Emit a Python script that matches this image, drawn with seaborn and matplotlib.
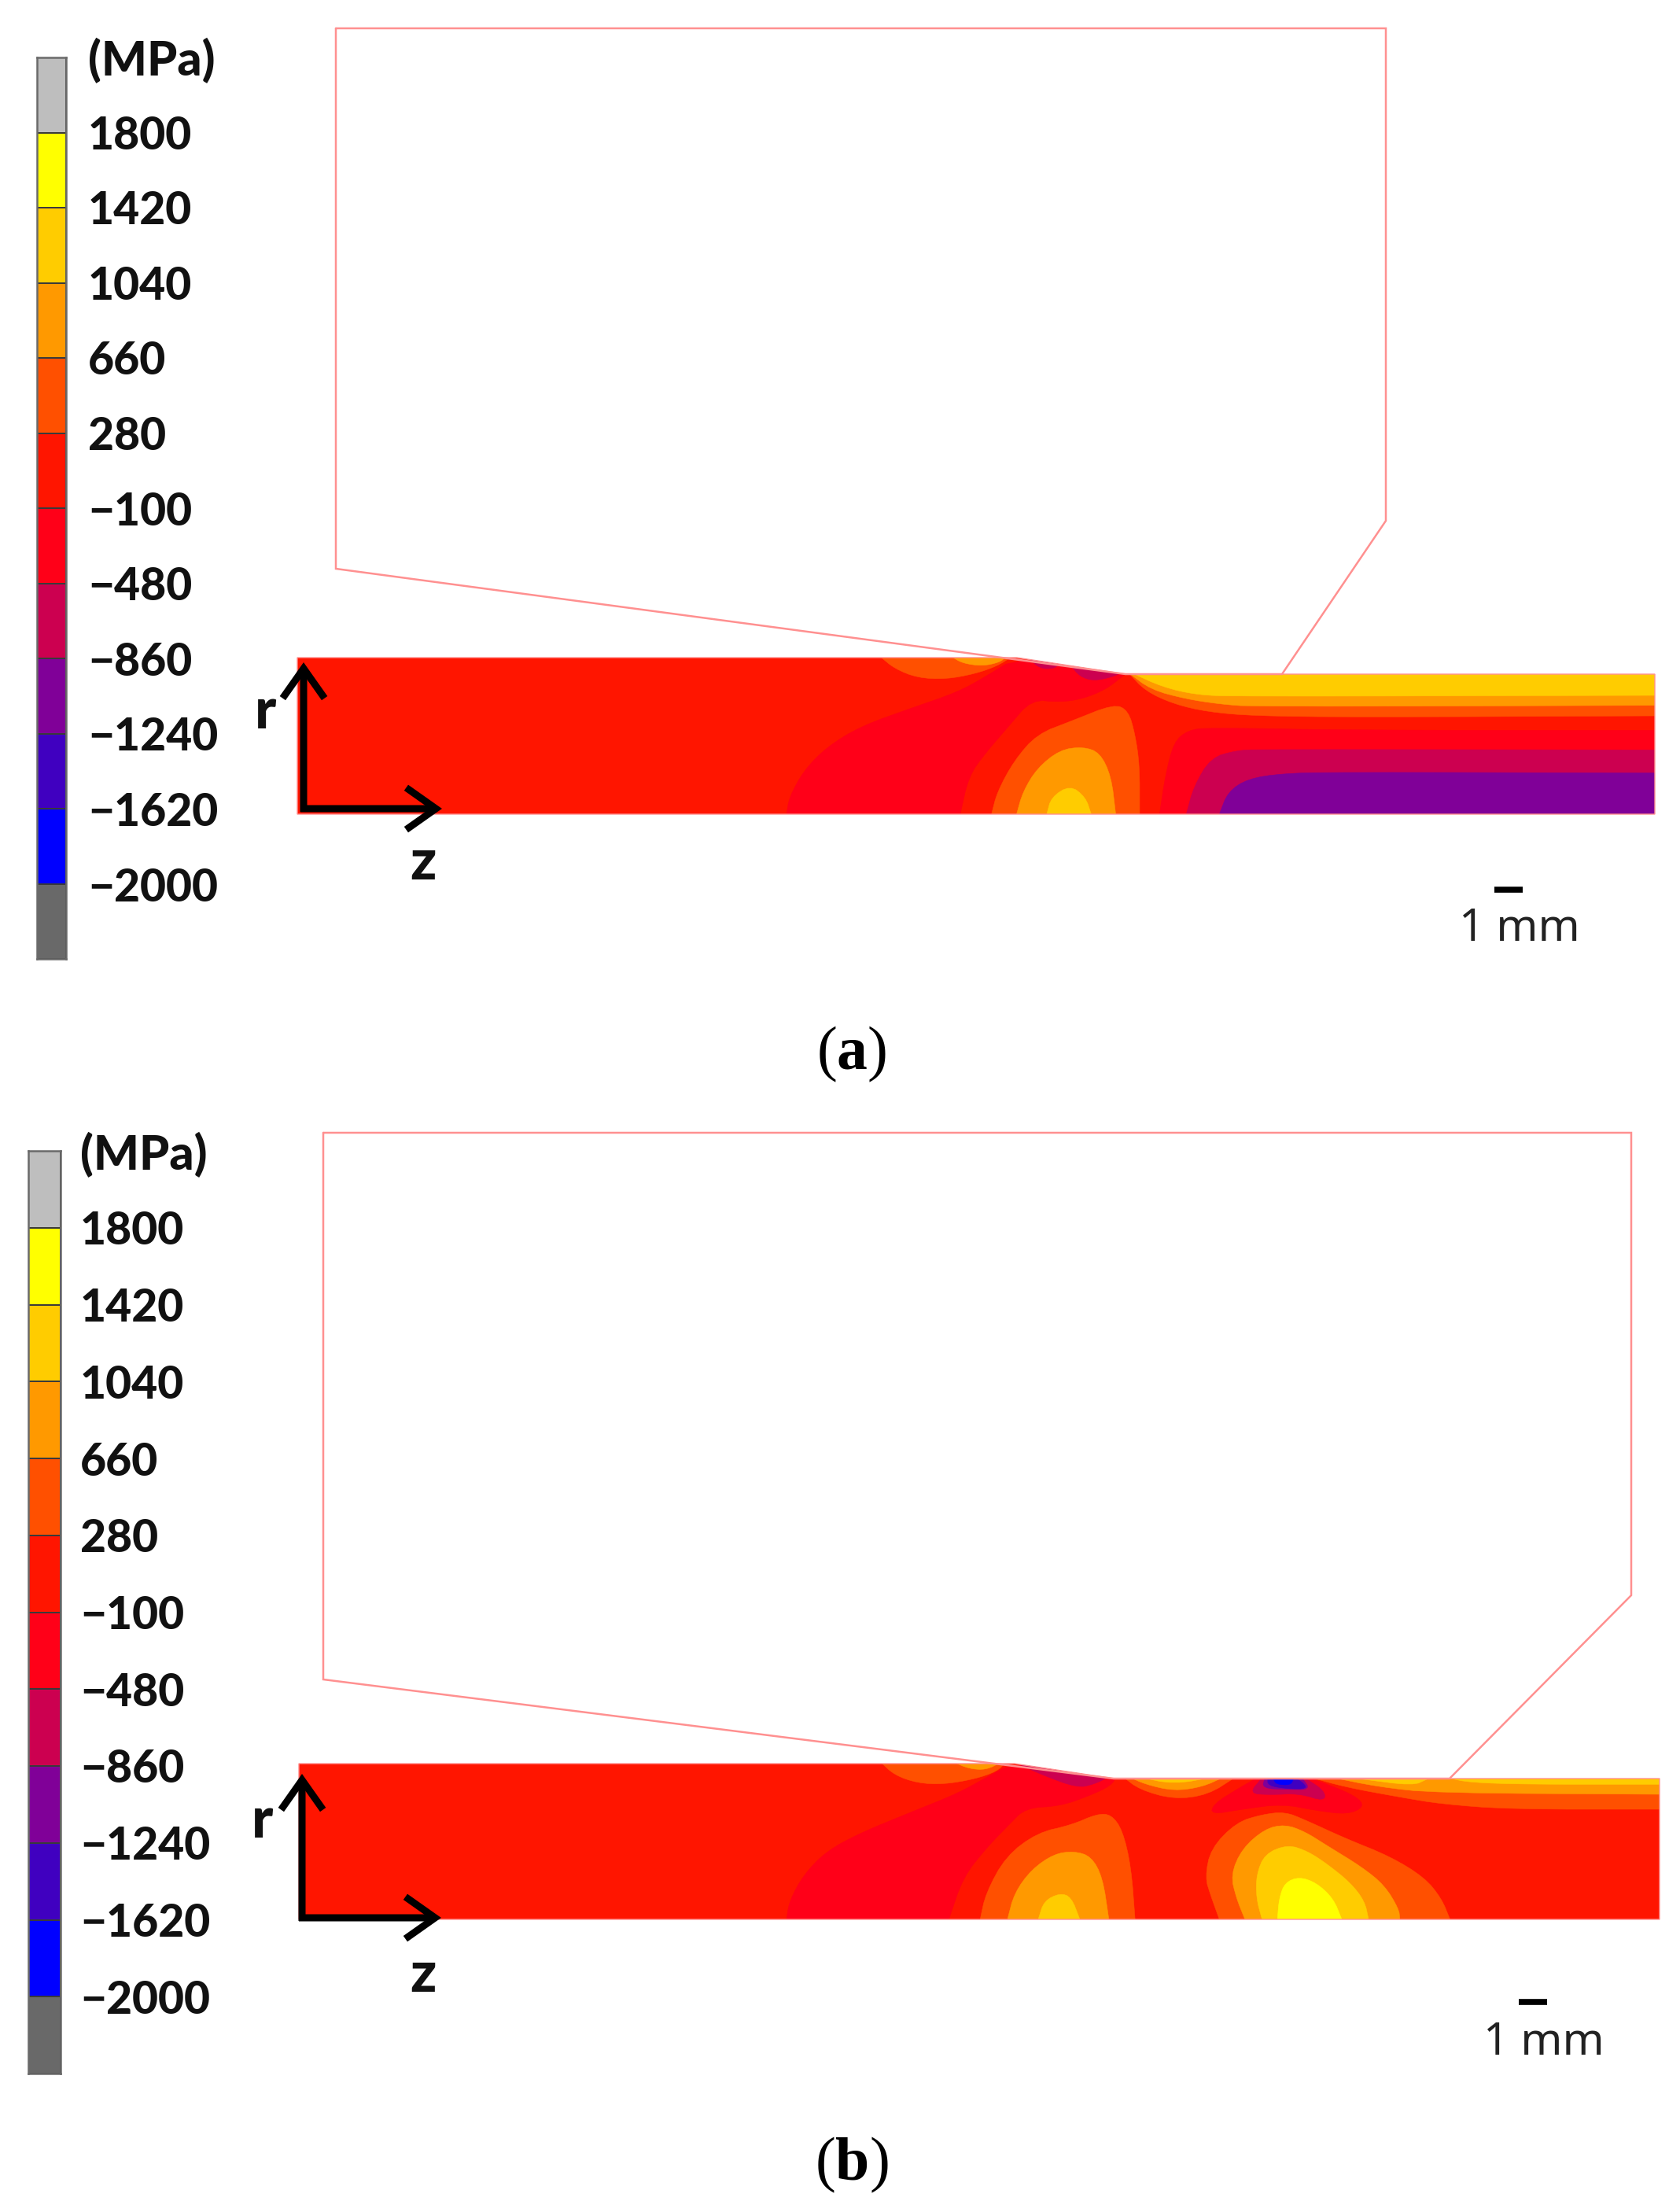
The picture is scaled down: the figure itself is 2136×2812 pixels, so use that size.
import numpy as np
import matplotlib
matplotlib.use("Agg")
import matplotlib.pyplot as plt
from matplotlib.colors import ListedColormap
from matplotlib.patches import Polygon
import seaborn as sns

sns.set_theme(style="white")
plt.rcParams["font.family"] = ["Lato", "DejaVu Sans"]
plt.rcParams["mathtext.fontset"] = "custom"
plt.rcParams["mathtext.bf"] = "Liberation Serif:bold"
plt.rcParams["mathtext.rm"] = "Liberation Serif"

W, H = 2136, 2812

# ---------- legend ----------
level_labels = ["1800", "1420", "1040", "660", "280", "\u2212100", "\u2212480",
                "\u2212860", "\u22121240", "\u22121620", "\u22122000"]
band_colors = ["#BEBEBE", "#FFFF00", "#FFCC00", "#FF9900", "#FF5000", "#FF1500",
               "#FF0018", "#CC0050", "#800098", "#4000C0", "#0000FF", "#696969"]
Y, G, M, O, R, RR, C, P, I, B = band_colors[1:11]

# ---------- tool outlines (reference pixels) ----------
die_a_x = [427, 1762, 1762, 1630, 1431, 427, 427]
die_a_y = [36, 36, 662, 857, 857, 723, 36]
die_b_x = [411, 2074, 2074, 1843, 1416, 411, 411]
die_b_y = [1440, 1440, 2028, 2261, 2261, 2135, 1440]

strip_a_x = [378, 1293, 1431, 2104, 2104, 378]
strip_a_y = [836, 836, 857, 857, 1035, 1035]
strip_b_x = [380, 1290, 1416, 2110, 2110, 380]
strip_b_y = [2242, 2242, 2261, 2261, 2440, 2440]

# ---------- iso-stress contours, panel (a): (z readout, r readout) ----------
a_m100_left = [(0, 705), (5, 640), (30, 540), (70, 450), (130, 370), (220, 300), (300, 240),
               (350, 180), (405, 105), (600, 160), (590, 180), (560, 230), (520, 265),
               (480, 278), (430, 268), (390, 370), (350, 470), (320, 560), (305, 705)]
a_280_mid = [(360, 705), (370, 620), (400, 500), (440, 400), (500, 350), (575, 285),
             (600, 310), (612, 400), (620, 520), (620, 705)]
a_660_mid = [(404, 705), (415, 620), (440, 530), (480, 460), (520, 448), (550, 470),
             (570, 560), (578, 705)]
a_1040_mid = [(457, 705), (465, 640), (498, 595), (525, 640), (535, 705)]
a_280_top = [(165, 105), (190, 150), (230, 185), (280, 190), (330, 170), (370, 140), (395, 105)]
a_660_top = [(290, 105), (310, 130), (345, 140), (375, 125), (385, 105)]
a_m480_c1 = [(425, 110), (445, 150), (470, 150), (480, 130)]
a_m480_c2 = [(500, 140), (515, 180), (540, 197), (575, 180), (592, 160)]
a_280_right = [(600, 165), (630, 235), (680, 285), (740, 315), (820, 330), (1000, 335), (1525, 330)]
a_660_right = [(600, 165), (640, 230), (700, 265), (760, 285), (820, 295), (1525, 290)]
a_1040_right = [(605, 165), (660, 220), (720, 250), (790, 256), (1525, 252)]
a_m100_right = [(655, 705), (665, 560), (680, 430), (705, 385), (740, 375), (1000, 385), (1525, 385)]
a_m480_right = [(702, 705), (715, 600), (745, 490), (790, 462), (830, 458), (1525, 460)]
a_m860_right = [(760, 705), (775, 620), (810, 570), (870, 550), (960, 545), (1525, 548)]

# ---------- iso-stress contours, panel (b) ----------
b_m100_left = [(0, 720), (5, 650), (30, 550), (70, 460), (130, 390), (220, 310), (300, 240),
               (350, 180), (400, 120), (580, 172), (570, 210), (530, 250), (480, 288),
               (420, 295), (390, 360), (350, 450), (310, 560), (285, 720)]
b_280_mid = [(340, 720), (350, 620), (385, 480), (440, 390), (500, 360), (545, 318),
             (570, 320), (590, 380), (605, 520), (612, 720)]
b_660_mid = [(388, 720), (400, 620), (430, 530), (470, 470), (505, 460), (535, 480),
             (555, 560), (566, 720)]
b_1040_mid = [(442, 720), (452, 650), (480, 620), (500, 635), (515, 720)]
b_280_top = [(165, 120), (190, 170), (230, 200), (275, 205), (330, 185), (370, 155), (385, 120)]
b_660_top = [(293, 120), (320, 145), (350, 150), (378, 120)]
b_m480_c1 = [(410, 130), (450, 170), (510, 218), (540, 205), (570, 172)]
b_280_cap = [(590, 175), (620, 225), (680, 262), (740, 245), (790, 175)]
b_660_cap = [(600, 175), (630, 205), (680, 230), (730, 215), (770, 175)]
b_1040_cap = [(615, 175), (680, 205), (755, 175)]
b_m100_pk = [(830, 175), (790, 225), (750, 280), (745, 320), (800, 300), (870, 280),
             (930, 305), (985, 320), (1015, 290), (1000, 250), (950, 205), (910, 175)]
b_m480_pk = [(835, 180), (812, 240), (850, 245), (900, 240), (945, 270), (945, 230), (910, 180)]
b_m860_pk = [(840, 180), (835, 220), (880, 225), (920, 225), (905, 180)]
b_m1240_pk = [(845, 178), (845, 210), (880, 222), (915, 222), (905, 195), (890, 178)]
b_m1620_pk = [(855, 185), (860, 205), (885, 208), (890, 185)]
b_280_lobe = [(760, 720), (745, 630), (735, 560), (745, 450), (790, 350), (835, 320), (875, 310),
              (910, 340), (980, 410), (1060, 480), (1120, 560), (1150, 640), (1165, 720)]
b_660_lobe = [(805, 720), (790, 640), (780, 550), (800, 450), (840, 375), (875, 358), (910, 385),
              (950, 440), (1010, 520), (1050, 590), (1075, 680), (1077, 720)]
b_1040_lobe = [(835, 720), (825, 640), (825, 550), (840, 470), (880, 435), (915, 460),
               (950, 510), (990, 580), (1015, 650), (1022, 720)]
b_1420_lobe = [(862, 720), (865, 640), (875, 580), (900, 558), (930, 580), (960, 640), (975, 720)]
b_280_right = [(915, 175), (980, 215), (1080, 255), (1150, 280), (1270, 300), (1533, 300)]
b_660_right = [(950, 175), (1040, 215), (1140, 238), (1533, 243)]
b_1040_r1 = [(1010, 185), (1100, 210), (1125, 185)]
b_1040_r2 = [(1160, 180), (1200, 198), (1300, 205), (1533, 205)]


def smooth(points, passes=2):
    p = np.asarray(points, float)
    for _ in range(passes):
        q = 0.75 * p[:-1] + 0.25 * p[1:]
        r = 0.25 * p[:-1] + 0.75 * p[1:]
        mid = np.empty((2 * len(q), 2))
        mid[0::2], mid[1::2] = q, r
        p = np.vstack([p[:1], mid, p[-1:]])
    return p


def to_px(points, y0):
    p = np.asarray(points, float)
    return np.column_stack([1000 + p[:, 0] / 1.381, y0 + p[:, 1] / 3.0])


fig = plt.figure(figsize=(W / 100, H / 100), dpi=100, facecolor="white")
ax = fig.add_axes([0, 0, 1, 1])
ax.set_xlim(0, W)
ax.set_ylim(H, 0)
ax.axis("off")


def panel(strip_x, strip_y, die_x, die_y, layers, y0):
    outline = np.column_stack([strip_x, strip_y])
    clip = Polygon(outline, closed=True, transform=ax.transData, fc="none", ec="none")
    ax.add_patch(clip)
    base = Polygon(outline, closed=True, fc=R, ec="none", zorder=1)
    ax.add_patch(base)
    for i, (color, curve, corners) in enumerate(layers):
        pts = to_px(smooth(curve), y0)
        if corners:
            pts = np.vstack([pts, to_px(corners, y0)])
        patch = Polygon(pts, closed=True, fc=color, ec=color, lw=0.4, zorder=2 + i * 0.01)
        ax.add_patch(patch)
        patch.set_clip_path(clip)
    ax.add_patch(Polygon(outline, closed=True, fc="none", ec="#FF9090", lw=1.0, zorder=3))
    ax.plot(die_x, die_y, color="#FF9090", lw=1.8, zorder=4, solid_joinstyle="miter")


layers_a = [
    (RR, a_m100_left, None), (O, a_280_top, None), (M, a_660_top, None),
    (C, a_m480_c1, None), (C, a_m480_c2, None),
    (O, a_280_mid, None), (M, a_660_mid, None), (G, a_1040_mid, None),
    (O, a_280_right, [(1525, 165)]), (M, a_660_right, [(1525, 165)]), (G, a_1040_right, [(1525, 165)]),
    (RR, a_m100_right, [(1525, 705)]), (C, a_m480_right, [(1525, 705)]), (P, a_m860_right, [(1525, 705)]),
]
layers_b = [
    (RR, b_m100_left, None), (O, b_280_top, None), (M, b_660_top, None), (C, b_m480_c1, None),
    (O, b_280_mid, None), (M, b_660_mid, None), (G, b_1040_mid, None),
    (O, b_280_cap, None), (M, b_660_cap, None), (G, b_1040_cap, None),
    (O, b_280_right, [(1533, 175)]), (M, b_660_right, [(1533, 175)]),
    (G, b_1040_r1, None), (G, b_1040_r2, [(1533, 175)]),
    (RR, b_m100_pk, None), (C, b_m480_pk, None), (P, b_m860_pk, None), (I, b_m1240_pk, None), (B, b_m1620_pk, None),
    (O, b_280_lobe, None), (M, b_660_lobe, None), (G, b_1040_lobe, None), (Y, b_1420_lobe, None),
]
panel(strip_a_x, strip_a_y, die_a_x, die_a_y, layers_a, 800)
panel(strip_b_x, strip_b_y, die_b_x, die_b_y, layers_b, 2200)


def legend(left, right, top, bottom, label_x, first_y, step):
    cax = fig.add_axes([left / W, 1 - bottom / H, (right - left) / W, (bottom - top) / H])
    cells = np.arange(len(band_colors)).reshape(-1, 1)
    sns.heatmap(cells, ax=cax, cmap=ListedColormap(band_colors), cbar=False,
                linewidths=1.2, linecolor="#3A3A3A", xticklabels=False, yticklabels=False)
    for s in cax.spines.values():
        s.set_visible(True)
        s.set_color("#6A6A6A")
        s.set_linewidth(1.8)
    ax.text(label_x, first_y - step, "(MPa)", fontsize=44, fontweight="black",
            color="#111111", va="center", ha="left")
    for i, lab in enumerate(level_labels):
        ax.text(label_x, first_y + i * step, lab, fontsize=41, fontweight="black",
                color="#111111", va="center", ha="left")


legend(47, 84, 73, 1219, 112, 173, 95.6)
legend(36, 77, 1463, 2636, 102, 1566, 97.7)


def arrows(x, top, y, tip):
    style = dict(arrowstyle="->,head_length=0.85,head_width=0.6", color="black", lw=6.5,
                 mutation_scale=32, shrinkA=0, shrinkB=0, capstyle="butt", joinstyle="miter")
    ax.annotate("", xy=(x, top), xytext=(x, y + 4), arrowprops=style, zorder=6)
    ax.annotate("", xy=(tip, y), xytext=(x - 4, y), arrowprops=style, zorder=6)


arrows(386, 842, 1028, 562)
arrows(384, 2255, 2438, 561)

for tx, ty, s in [(337, 905, "r"), (538, 1098, "z"), (333, 2316, "r"), (538, 2512, "z")]:
    ax.text(tx, ty, s, fontsize=52, fontweight="black", color="#111111", ha="center", va="center")

for x0, x1, yb, yt in [(1900, 1936, 1131, 1181), (1931, 1967, 2545, 2597)]:
    ax.plot([x0, x1], [yb, yb], color="black", lw=5.5, solid_capstyle="butt")
    ax.text((x0 + x1) / 2 + 14, yt, "1 mm", fontsize=41, family="Noto Sans", color="#222222",
            ha="center", va="center")

ax.text(1083, 1340, r"($\mathbf{a}$)", fontsize=56, family="Liberation Serif", color="black",
        ha="center", va="center")
ax.text(1083, 2752, r"($\mathbf{b}$)", fontsize=56, family="Liberation Serif", color="black",
        ha="center", va="center")

fig.savefig("out.png", dpi=100, facecolor="white")
